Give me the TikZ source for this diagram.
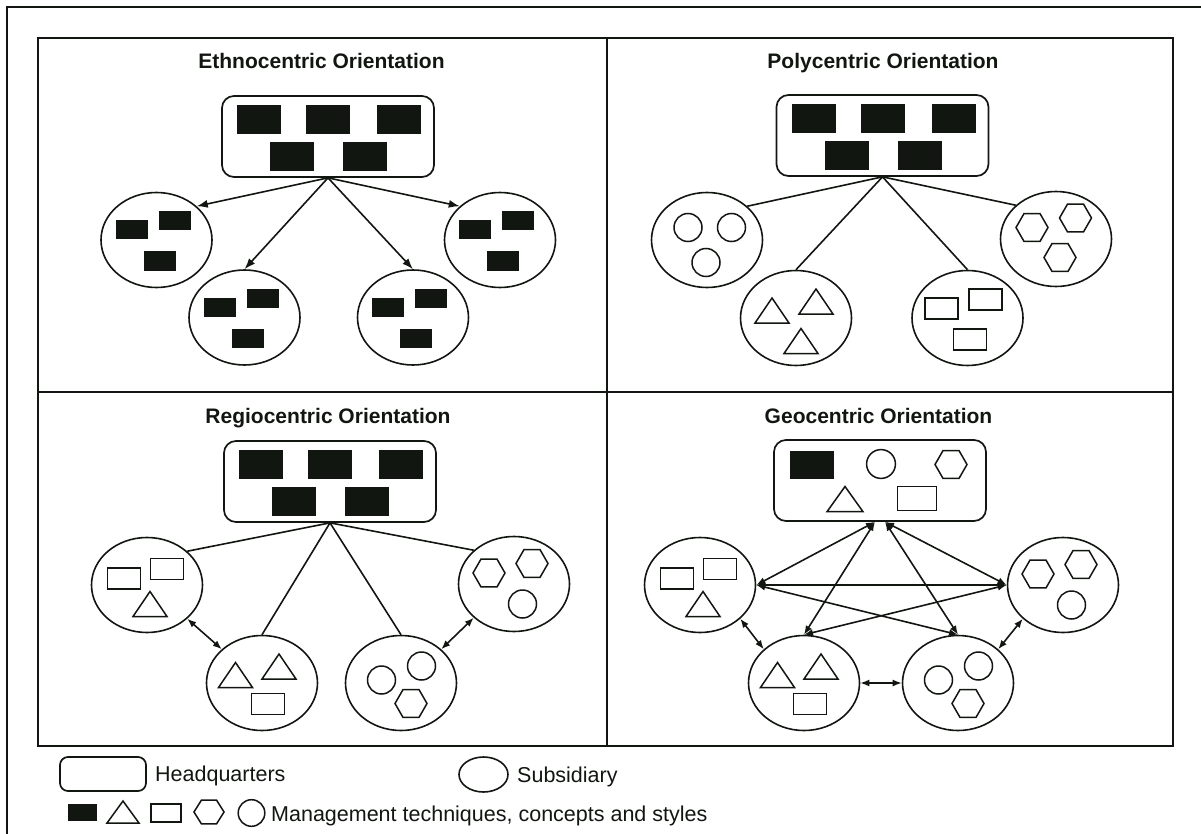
\documentclass[tikz,border=0pt]{standalone}
\usepackage{fontspec}
\setmainfont{Liberation Sans}
\usetikzlibrary{calc,arrows.meta,shapes.geometric}
\definecolor{ink}{HTML}{121611}
\tikzset{
  hq/.style={draw=ink, line width=1.7pt, rounded corners=12pt, minimum width=212pt, minimum height=81pt, inner sep=0pt},
  sub/.style={draw=ink, line width=1.6pt, ellipse, minimum width=111pt, minimum height=95pt, inner sep=0pt},
  shp/.style={draw=ink, line width=1.5pt},
  hqline/.style={draw=ink, line width=1.6pt},
  hqarrow/.style={hqline, -{Latex[length=11pt,width=8pt]}},
  twoway/.style={hqline, {Latex[length=9pt,width=7pt]}-{Latex[length=9pt,width=7pt]}},
  ttl/.style={font=\bfseries\fontsize{21}{25}\selectfont, anchor=base, inner sep=0pt, text=ink},
  lgd/.style={font=\fontsize{21.5}{25}\selectfont, anchor=base west, inner sep=0pt, text=ink},
  blk/.pic={\fill[ink] (-16,-9.5) rectangle (16,9.5);},
  bigblk/.pic={\fill[ink] (-22,-14.25) rectangle (22,14.25);},
  box/.pic={\draw[shp] (-16.5,-10.5) rectangle (16.5,10.5);},
  tri/.pic={\draw[shp] (-17,12.5) -- (17,12.5) -- (0,-12.5) -- cycle;},
  hex/.pic={\draw[shp] (-16,0) -- (-8,-13.9) -- (8,-13.9) -- (16,0) -- (8,13.9) -- (-8,13.9) -- cycle;},
  ring/.pic={\draw[shp] (0,0) circle (14);},
}

\begin{document}
\begin{tikzpicture}[x=1pt,y=-1pt]
			%%%%% FRAME %%%%%
			\useasboundingbox (0,0) rectangle (1201,834);
			\draw[ink, line width=2.4pt] (7,834) -- (7,7) -- (1201,7);
			\draw[ink, line width=1.6pt] (38,38) rectangle (1173,746);
			\draw[ink, line width=1.6pt] (607,38) -- (607,746);
			\draw[ink, line width=1.6pt] (38,392) -- (1173,392);
			
			%%%%% ETHNOCENTRIC %%%%%
			\node[ttl] (e-title) at (321.5,69) {Ethnocentric Orientation};
			\node[hq] (e-hq) at (328,136.5) {};
			\node[sub] (e-l) at (156.5,240) {};
			\node[sub] (e-bl) at (244.5,317.5) {};
			\node[sub] (e-br) at (413,317.5) {};
			\node[sub] (e-r) at (500,240) {};
			\foreach \s in {e-l,e-bl,e-br,e-r}
				\foreach \dx/\dy in {-25/-10,18/-19,3/21}
					\pic at ($(\s)+(\dx,\dy)$) {blk};
			\foreach \s/\a in {e-l/40,e-bl/north,e-br/north,e-r/140}
				\draw[hqarrow] (e-hq.south) -- (\s.\a);
			
			%%%%% POLYCENTRIC %%%%%
			\node[ttl] (p-title) at (883,69) {Polycentric Orientation};
			\node[hq] (p-hq) at (882.5,135.5) {};
			\node[sub] (p-l) at (707,240) {};
			\node[sub] (p-bl) at (796,318) {};
			\node[sub] (p-br) at (967.5,318) {};
			\node[sub] (p-r) at (1056,239) {};
			\foreach \dx/\dy in {-19/-12.5,24.5/-12.5,-1/22.5} \pic at ($(p-l)+(\dx,\dy)$) {ring};
			\foreach \dx/\dy in {-24/-7.5,20/-16.5,5/23} \pic at ($(p-bl)+(\dx,\dy)$) {tri};
			\foreach \dx/\dy in {-26/-9.5,18/-18.5,2.5/21.5} \pic at ($(p-br)+(\dx,\dy)$) {box};
			\foreach \dx/\dy in {-24/-11.5,19.5/-21,4/18.5} \pic at ($(p-r)+(\dx,\dy)$) {hex};
			\foreach \s/\a in {p-l/40,p-bl/north,p-br/north,p-r/140}
				\draw[hqline] (p-hq.south) -- (\s.\a);
			
			%%%%% REGIOCENTRIC %%%%%
			\node[ttl] (r-title) at (328,423) {Regiocentric Orientation};
			\node[hq] (r-hq) at (330,481.5) {};
			\node[sub] (r-l) at (147,585) {};
			\node[sub] (r-bl) at (262,683) {};
			\node[sub] (r-br) at (401,683) {};
			\node[sub] (r-r) at (514,584) {};
			\foreach \s/\a in {r-l/40,r-bl/north,r-br/north,r-r/140}
				\draw[hqline] (r-hq.south) -- (\s.\a);
			\draw[twoway] (r-l.-40) -- (r-bl.140);
			\draw[twoway] (r-br.40) -- (r-r.-140);
			
			\foreach \h in {e-hq,p-hq,r-hq}
				\foreach \dx/\dy in {-69/-17,0/-17,71/-17,-36/20,37/20}
					\pic at ($(\h)+(\dx,\dy)$) {bigblk};
			
			%%%%% GEOCENTRIC %%%%%
			\node[ttl] (g-title) at (878.5,423) {Geocentric Orientation};
			\node[hq] (g-hq) at (880,480.5) {};
			\node[sub] (g-l) at (700,585) {};
			\node[sub] (g-bl) at (804,683) {};
			\node[sub] (g-br) at (958,683) {};
			\node[sub] (g-r) at (1063,585) {};
			\pic at ($(g-hq)+(-68,-15.5)$) {bigblk};
			\pic[scale=1.03] at ($(g-hq)+(1,-16.5)$) {ring};
			\pic at ($(g-hq)+(71,-16)$) {hex};
			\pic[xscale=1.05] at ($(g-hq)+(-35,18.5)$) {tri};
			\pic[xscale=1.18,yscale=1.14] at ($(g-hq)+(37,18)$) {box};
			\coordinate (g-ha) at ($(g-hq.south)+(-5,0)$);
			\coordinate (g-hb) at ($(g-hq.south)+(5,0)$);
			\foreach \a/\b in {g-ha/g-l.east, g-ha/g-bl.north, g-hb/g-br.north, g-hb/g-r.west,
				g-l.east/g-r.west, g-l.east/g-br.north, g-r.west/g-bl.north,
				g-l.-40/g-bl.140, g-bl.east/g-br.west, g-br.40/g-r.-140}
				\draw[twoway] (\a) -- (\b);
			
			% same subsidiaries in both lower panels
			\foreach \p in {r,g} {
				\pic at ($(\p-l)+(-23,-6.5)$) {box};
				\pic at ($(\p-l)+(20,-16)$) {box};
				\pic at ($(\p-l)+(3,19)$) {tri};
				\pic at ($(\p-bl)+(-26.5,-8)$) {tri};
				\pic at ($(\p-bl)+(17,-16.5)$) {tri};
				\pic at ($(\p-bl)+(6,21)$) {box};
				\pic at ($(\p-br)+(-19.5,-3)$) {ring};
				\pic at ($(\p-br)+(20.5,-17)$) {ring};
				\pic at ($(\p-br)+(10,20.5)$) {hex};
				\pic at ($(\p-r)+(-25,-11)$) {hex};
				\pic at ($(\p-r)+(18,-20.5)$) {hex};
				\pic at ($(\p-r)+(8.5,20)$) {ring};
			}
			
			%%%%% LEGEND %%%%%
			\node[hq, minimum width=86pt, minimum height=34pt, rounded corners=8pt] (k-hq) at (103,774) {};
			\node[lgd] (k-hqtext) at (155,781) {Headquarters};
			\node[sub, minimum width=49pt, minimum height=35pt] (k-sub) at (483.5,774.5) {};
			\node[lgd] (k-subtext) at (517,782) {Subsidiary};
			\pic[scale=0.9] at (82.5,812.5) {blk};
			\pic[xscale=0.94,yscale=0.88] at (123,812) {tri};
			\pic[xscale=0.9,yscale=0.86] at (166,813) {box};
			\pic[xscale=0.94,yscale=0.86] at (209,812) {hex};
			\pic[scale=0.95] at (251.5,813) {ring};
			\node[lgd] (k-mtext) at (271,821) {Management techniques, concepts and styles};
			
		\end{tikzpicture}
\end{document}
